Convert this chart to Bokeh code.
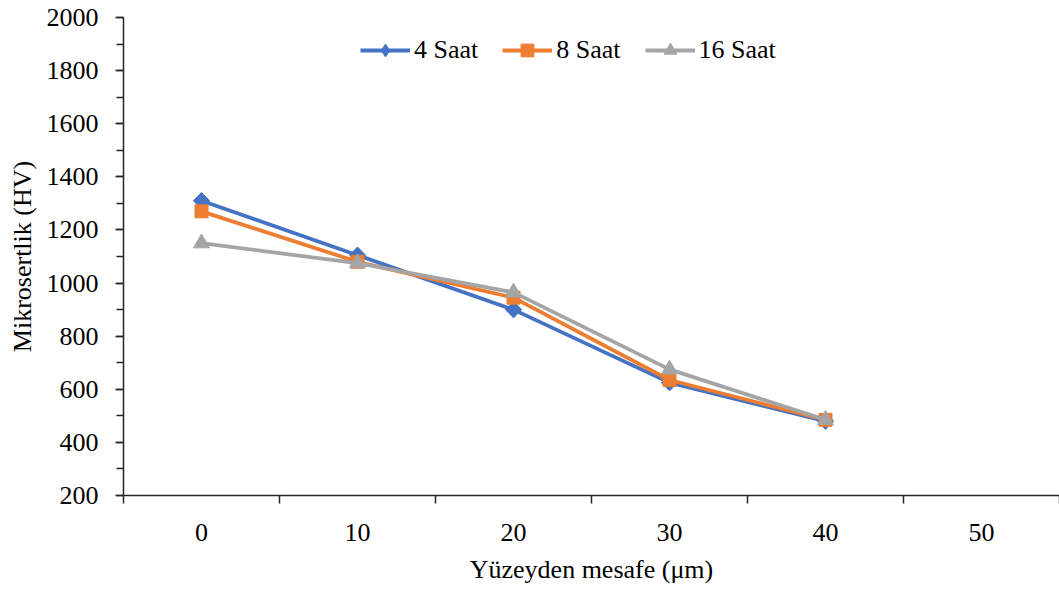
import math
from bokeh.plotting import figure
from bokeh.models import FixedTicker, SingleIntervalTicker, Range1d
from bokeh.embed import file_html
from bokeh.resources import INLINE

categories = ["0", "10", "20", "30", "40", "50"]
saat4 = [1310, 1105, 900, 625, 480]
saat8 = [1270, 1080, 945, 635, 485]
saat16 = [1150, 1075, 965, 675, 485]

FONT = "Liberation Serif"
BLUE, ORANGE, GRAY = "#4472C4", "#ED7D31", "#A5A5A5"

p = figure(width=1059, height=590, output_backend="svg", toolbar_location=None,
           x_range=Range1d(-0.5, len(categories) - 0.5), y_range=Range1d(200, 2000),
           min_border_left=123, min_border_right=0, min_border_top=17, min_border_bottom=95)
p.outline_line_color = None
p.xgrid.grid_line_color = None
p.ygrid.grid_line_color = None
p.background_fill_color = "white"
p.border_fill_color = "white"

idx = list(range(len(categories)))

series = [("4 Saat", saat4, BLUE, "diamond", 16),
          ("8 Saat", saat8, ORANGE, "square", 13),
          ("16 Saat", saat16, GRAY, "triangle", 16)]
for name, vals, col, mk, sz in series:
    xs = idx[:len(vals)]
    p.line(xs, vals, line_color=col, line_width=3.8, legend_label=name)
    p.scatter(xs, vals, marker=mk, size=sz, fill_color=col, line_color=col, legend_label=name)
    if mk == "diamond":
        # Excel-style equal-sided diamond (rotated square) over the data points
        p.scatter(xs, vals, marker="square", size=11.5, angle=math.pi / 4,
                  fill_color=col, line_color=col)

# x axis
p.xaxis.ticker = FixedTicker(ticks=idx, minor_ticks=[i - 0.5 for i in range(len(categories) + 1)])
p.xaxis.major_label_overrides = {i: c for i, c in enumerate(categories)}
p.xaxis.major_tick_line_color = None
p.xaxis.minor_tick_line_color = "#262626"
p.xaxis.minor_tick_out = 8
p.xaxis.minor_tick_in = 0
p.xaxis.minor_tick_line_width = 1.5
p.xaxis.major_label_standoff = 20
p.xaxis.axis_label = "Yüzeyden mesafe (μm)"
p.xaxis.axis_label_standoff = 11

# y axis
p.yaxis.ticker = SingleIntervalTicker(interval=200, num_minor_ticks=2)
p.yaxis.major_tick_out = 8
p.yaxis.major_tick_in = 0
p.yaxis.minor_tick_out = 7
p.yaxis.minor_tick_in = 0
p.yaxis.major_tick_line_color = "#262626"
p.yaxis.minor_tick_line_color = "#262626"
p.yaxis.major_tick_line_width = 1.5
p.yaxis.minor_tick_line_width = 1.5
p.yaxis.major_label_standoff = 17
p.yaxis.axis_label = "Mikrosertlik (HV)"
p.yaxis.axis_label_standoff = 7

for ax in (p.xaxis, p.yaxis):
    ax.axis_line_color = "#262626"
    ax.axis_line_width = 1.5
    ax.major_label_text_font = FONT
    ax.major_label_text_font_size = "26px"
    ax.major_label_text_color = "black"
    ax.axis_label_text_font = FONT
    ax.axis_label_text_font_size = "26px"
    ax.axis_label_text_font_style = "normal"
    ax.axis_label_text_color = "black"

p.legend.location = (237, 429)
p.legend.orientation = "horizontal"
p.legend.border_line_color = None
p.legend.background_fill_alpha = 0
p.legend.label_text_font = FONT
p.legend.label_text_font_size = "26px"
p.legend.label_text_color = "black"
p.legend.glyph_width = 50
p.legend.glyph_height = 32
p.legend.label_standoff = 4
p.legend.spacing = 24
p.legend.padding = 10
p.legend.margin = 0

open("out.html", "w").write(file_html(p, INLINE))
